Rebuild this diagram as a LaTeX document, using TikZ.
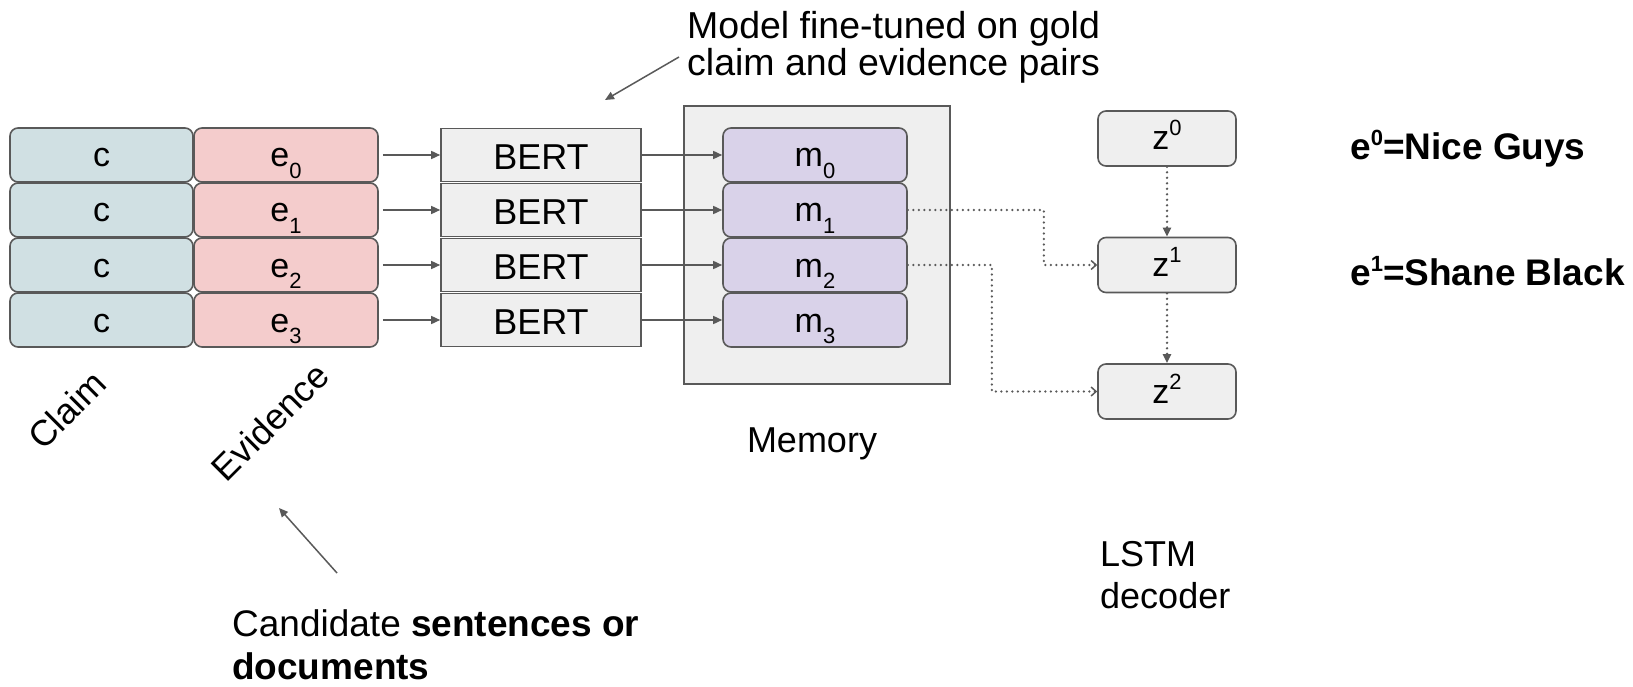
\documentclass[tikz,border=0pt]{standalone}
\usepackage{fontspec}
\setmainfont{Liberation Sans}
\usetikzlibrary{arrows.meta}
\definecolor{claimfill}{HTML}{D0E0E3}
\definecolor{evfill}{HTML}{F4CCCC}
\definecolor{memfill}{HTML}{D9D2E9}
\definecolor{grayfill}{HTML}{EFEFEF}
\definecolor{edgec}{HTML}{595959}
\newcommand{\mysub}[1]{\raisebox{-11.5pt}{\fontsize{22}{22}\selectfont #1}}
\newcommand{\mysup}[1]{\raisebox{14pt}{\fontsize{22}{22}\selectfont #1}}
\newcommand{\boxfont}{\fontsize{34}{34}\selectfont}
\newcommand{\lblfont}{\fontsize{36}{36}\selectfont}
\begin{document}
\begin{tikzpicture}[x=1pt,y=-1pt,
  cell/.style={draw=edgec, line width=1.6pt, rounded corners=8pt, inner sep=0pt,
    minimum height=54pt, text height=24pt, text depth=0pt, font=\boxfont},
  claimbox/.style={cell, fill=claimfill, minimum width=183pt},
  evbox/.style={cell, fill=evfill, minimum width=184pt},
  membox/.style={cell, fill=memfill, minimum width=184pt},
  zbox/.style={cell, fill=grayfill, minimum width=138pt, minimum height=55pt, text height=23pt},
  bertbox/.style={draw=edgec, line width=1.6pt, fill=grayfill, inner sep=0pt,
    minimum width=200pt, minimum height=53pt, text height=29pt, text depth=0pt, font=\lblfont},
  memframe/.style={draw=edgec, line width=1.6pt, fill=grayfill, inner sep=0pt,
    minimum width=266pt, minimum height=278pt},
  arr/.style={draw=edgec, line width=1.5pt, -{Triangle[length=9pt,width=8pt]}},
  dotarr/.style={draw=edgec, line width=2.6pt, dash pattern=on 0pt off 5.5pt, line cap=round,
    -{Straight Barb[length=5pt,width=9pt,line width=1.5pt]}},
  dotarrz/.style={draw=edgec, line width=2.6pt, dash pattern=on 0pt off 5.5pt, line cap=round,
    -{Triangle[length=9pt,width=8pt]}},
  txt/.style={inner sep=0pt, font=\lblfont},
]
\useasboundingbox (0,0) rectangle (1633,687);

% memory frame
\node[memframe] (mem) at (817,245) {};

% rows
\foreach \i/\y in {0/155,1/210,2/265,3/320}{
  \node[claimbox] (c\i) at (101.5,\y) {c};
  \node[evbox] (e\i) at (286,\y) {e\mysub{\i}};
  \node[bertbox] (b\i) at (541,\y) {BERT};
  \node[membox] (m\i) at (815,\y) {m\mysub{\i}};
}
\foreach \i in {0,1,2,3}{
  \draw[arr] ([xshift=4pt]e\i.east) -- (b\i.west);
  \draw[arr] (b\i.east) -- (m\i.west);
}

% decoder
\node[zbox] (z0) at (1167,138.5) {z\mysup{0}};
\node[zbox] (z1) at (1167,265) {z\mysup{1}};
\node[zbox] (z2) at (1167,391.5) {z\mysup{2}};
\draw[dotarrz] (z0.south) -- (z1.north);
\draw[dotarrz] (z1.south) -- (z2.north);
\draw[dotarr] (m1.east) -- ++(136,0) |- (z1.west);
\draw[dotarr] (m2.east) -- ++(84,0) |- (z2.west);

% labels
\node[txt] (memlbl) at (812,444) {Memory};
\node[txt, rotate=45] (claimlbl) at (67,410) {Claim};
\node[txt, rotate=45] (evlbl) at (270,422) {Evidence};
\node[txt, anchor=north west, align=left, font=\fontsize{36}{42}\selectfont] (lstm) at (1100,541) {LSTM\\decoder};
\node[txt, anchor=north west, align=left, font=\fontsize{37.5}{37}\selectfont] (note) at (687,11) {Model fine-tuned on gold\\claim and evidence pairs};
\node[txt, anchor=north west, align=left, font=\fontsize{37}{43}\selectfont] (cand) at (232,609) {Candidate \textbf{sentences or}\\\textbf{documents}};
\node[txt, anchor=base west, font=\bfseries\fontsize{37}{37}\selectfont] (g0) at (1350,160) {e\mysup{0}=Nice Guys};
\node[txt, anchor=base west, font=\bfseries\fontsize{37}{37}\selectfont] (g1) at (1350,285) {e\mysup{1}=Shane Black};

% annotation arrows
\coordinate (ns) at (679,57);
\coordinate (ne) at (605,100);
\draw[arr] (ns) -- (ne);
\coordinate (cs) at (337,573);
\coordinate (ce) at (279,508);
\draw[arr] (cs) -- (ce);
\end{tikzpicture}
\end{document}
